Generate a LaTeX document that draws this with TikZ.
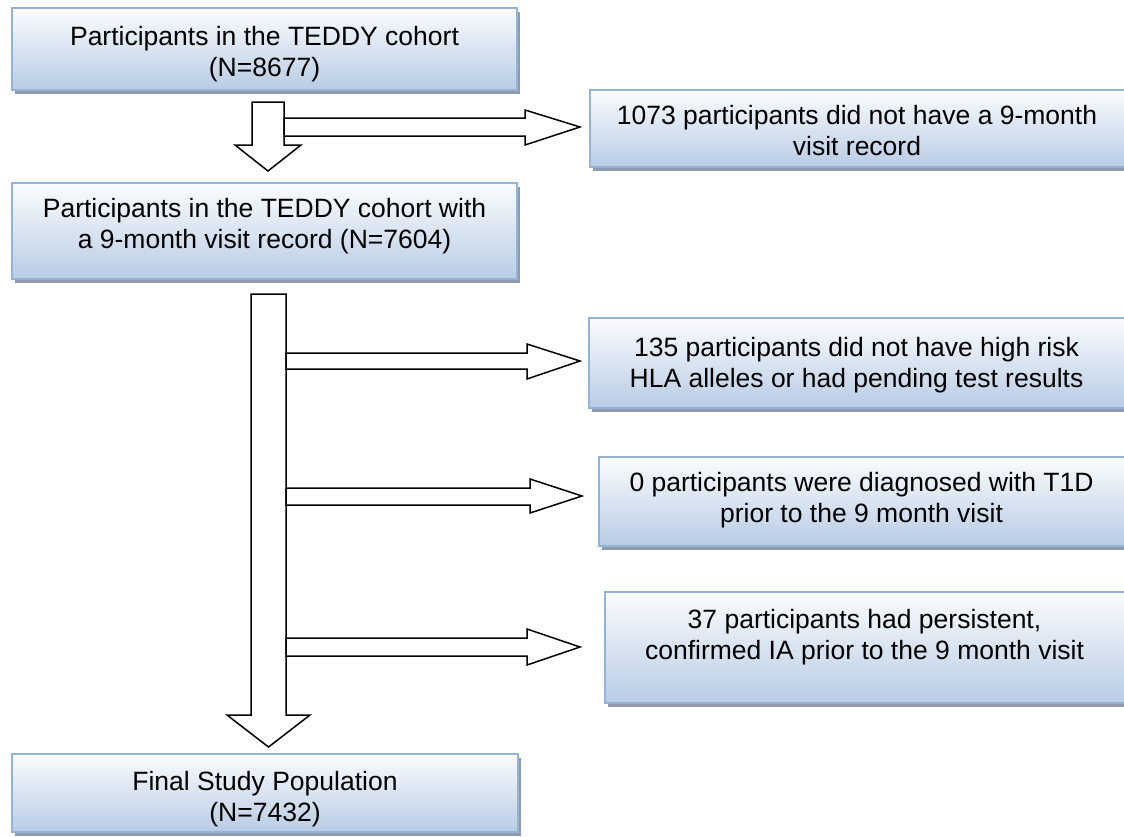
\documentclass[tikz,border=0pt]{standalone}
\usepackage{fontspec}
\setmainfont{Liberation Sans}
\usetikzlibrary{shadows}
\definecolor{boxline}{RGB}{149,179,215}
\definecolor{boxtop}{RGB}{250,252,254}
\definecolor{boxbot}{RGB}{184,204,228}
\definecolor{shadecol}{RGB}{142,155,175}
\begin{document}
\begin{tikzpicture}[x=1pt,y=-1pt,
  box/.style={draw=boxline, line width=1.5pt, top color=boxtop, bottom color=boxbot,
    drop shadow={shadow xshift=3pt, shadow yshift=-4pt, fill=shadecol, opacity=1},
    rectangle, inner sep=0pt},
  txt/.style={align=center, font=\fontsize{26.5}{31.5}\selectfont, inner sep=0pt, anchor=north},
  blk/.style={draw=black, line width=1.5pt, fill=white, line join=miter}]
\useasboundingbox (0,0) rectangle (1124,836);
\clip (0,0) rectangle (1124,836);
\fill[white] (0,0) rectangle (1124,836);

% left boxes
\node[box, minimum width=505pt, minimum height=82pt] (b1) at (264.5,49) {};
\node[box, minimum width=505pt, minimum height=96pt] (b2) at (264.5,231) {};
\node[box, minimum width=506pt, minimum height=78pt] (b3) at (265,793) {};
% right boxes
\node[box, minimum width=538pt, minimum height=77pt] (r1) at (859,128.5) {};
\node[box, minimum width=539pt, minimum height=90pt] (r2) at (858.5,363) {};
\node[box, minimum width=529pt, minimum height=89pt] (r3) at (863.5,501.5) {};
\node[box, minimum width=523pt, minimum height=111pt] (r4) at (866.5,647.5) {};

% texts
\node[txt] (t1) at (264.5,25) {\rule{0pt}{20pt}Participants in the TEDDY cohort\\(N=8677)};
\node[txt] (t2) at (264.5,197) {\rule{0pt}{20pt}Participants in the TEDDY cohort with\\a 9-month visit record (N=7604)};
\begin{scope}
  \clip (12,754) rectangle (518,826);
  \node[txt] (t3) at (265,770) {\rule{0pt}{20pt}Final Study Population\\(N=7432)};
\end{scope}
\node[txt] (tr1) at (857,104) {\rule{0pt}{20pt}1073 participants did not have a 9-month\\visit record};
\node[txt] (tr2) at (856.5,336) {\rule{0pt}{20pt}135 participants did not have high risk\\HLA alleles or had pending test results};
\node[txt] (tr3) at (861.5,471) {\rule{0pt}{20pt}0 participants were diagnosed with T1D\\prior to the 9 month visit};
\node[txt] (tr4) at (864.5,608) {\rule{0pt}{20pt}37 participants had persistent,\\confirmed IA prior to the 9 month visit};

% first block arrow (down) and its branch
\filldraw[blk] (252,102) -- (284,102) -- (284,145) -- (301,145) -- (268,171)
  -- (235,145) -- (252,145) -- cycle;
\filldraw[blk] (284,118) -- (525,118) -- (525,110) -- (580,127) -- (525,145)
  -- (525,136) -- (284,136) -- cycle;

% second block arrow (down) and its three branches
\filldraw[blk] (251,294) -- (286,294) -- (286,715) -- (310,715) -- (268.5,747)
  -- (227,715) -- (251,715) -- cycle;
\filldraw[blk] (286,353) -- (527,353) -- (527,344) -- (580,361) -- (527,379)
  -- (527,369) -- (286,369) -- cycle;
\filldraw[blk] (286,488) -- (530,488) -- (530,479) -- (582,496) -- (530,513)
  -- (530,505) -- (286,505) -- cycle;
\filldraw[blk] (286,638) -- (527,638) -- (527,629) -- (580,647) -- (527,665)
  -- (527,656) -- (286,656) -- cycle;
\end{tikzpicture}
\end{document}
